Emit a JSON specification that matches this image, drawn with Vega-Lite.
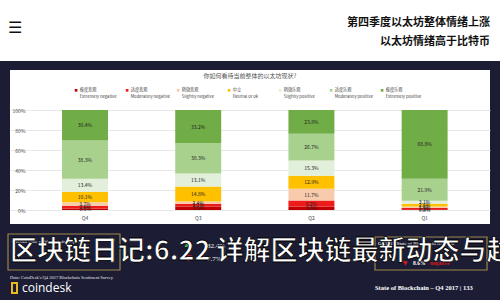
{
  "$schema": "https://vega.github.io/schema/vega-lite/v6.json",
  "background": "#1c1d35",
  "padding": 0,
  "spacing": 9,
  "center": true,
  "config": {"view": {"stroke": null}, "font": "Noto Sans CJK SC"},
  "vconcat": [
    {
      "width": 500,
      "height": 61,
      "view": {"fill": "white", "stroke": null},
      "layer": [
        {
          "data": {"values": [
            {"line": "1", "text": "第四季度以太坊整体情绪上涨"},
            {"line": "2", "text": "以太坊情绪高于比特币"}
          ]},
          "mark": {"type": "text", "align": "right", "baseline": "middle", "fontSize": 11, "fontWeight": "bold", "color": "#111", "dx": -10},
          "encoding": {
            "x": {"value": "width"},
            "y": {"field": "line", "type": "ordinal", "axis": null, "scale": {"range": [23, 42], "padding": 0}},
            "text": {"field": "text"}
          }
        },
        {
          "data": {"values": [{"icon": "☰"}]},
          "mark": {"type": "text", "align": "left", "baseline": "middle", "fontSize": 16, "color": "#111", "font": "DejaVu Sans"},
          "encoding": {"x": {"value": 8}, "y": {"value": 28}, "text": {"field": "icon"}}
        }
      ]
    },
    {
      "width": 480,
      "height": 154,
      "view": {"fill": "white", "stroke": null},
      "title": {"text": "你如何看待当前整体的以太坊现状?", "fontSize": 6, "color": "#555", "fontWeight": "normal", "offset": -9, "anchor": "middle"},
      "data": {"values": [
        {"quarter": "Q4", "sentiment": "Extremely negative", "rank": 1, "share": 0.015},
        {"quarter": "Q4", "sentiment": "Moderately negative", "rank": 2, "share": 0.026},
        {"quarter": "Q4", "sentiment": "Slightly negative", "rank": 3, "share": 0.037},
        {"quarter": "Q4", "sentiment": "Neutral or ok", "rank": 4, "share": 0.101},
        {"quarter": "Q4", "sentiment": "Slightly positive", "rank": 5, "share": 0.134},
        {"quarter": "Q4", "sentiment": "Moderately positive", "rank": 6, "share": 0.383},
        {"quarter": "Q4", "sentiment": "Extremely positive", "rank": 7, "share": 0.304},
        {"quarter": "Q3", "sentiment": "Extremely negative", "rank": 1, "share": 0.035},
        {"quarter": "Q3", "sentiment": "Moderately negative", "rank": 2, "share": 0.027},
        {"quarter": "Q3", "sentiment": "Slightly negative", "rank": 3, "share": 0.024},
        {"quarter": "Q3", "sentiment": "Neutral or ok", "rank": 4, "share": 0.148},
        {"quarter": "Q3", "sentiment": "Slightly positive", "rank": 5, "share": 0.131},
        {"quarter": "Q3", "sentiment": "Moderately positive", "rank": 6, "share": 0.303},
        {"quarter": "Q3", "sentiment": "Extremely positive", "rank": 7, "share": 0.332},
        {"quarter": "Q2", "sentiment": "Extremely negative", "rank": 1, "share": 0.034},
        {"quarter": "Q2", "sentiment": "Moderately negative", "rank": 2, "share": 0.062},
        {"quarter": "Q2", "sentiment": "Slightly negative", "rank": 3, "share": 0.117},
        {"quarter": "Q2", "sentiment": "Neutral or ok", "rank": 4, "share": 0.129},
        {"quarter": "Q2", "sentiment": "Slightly positive", "rank": 5, "share": 0.153},
        {"quarter": "Q2", "sentiment": "Moderately positive", "rank": 6, "share": 0.267},
        {"quarter": "Q2", "sentiment": "Extremely positive", "rank": 7, "share": 0.238},
        {"quarter": "Q1", "sentiment": "Extremely negative", "rank": 1, "share": 0.008},
        {"quarter": "Q1", "sentiment": "Moderately negative", "rank": 2, "share": 0.012},
        {"quarter": "Q1", "sentiment": "Slightly negative", "rank": 3, "share": 0.016},
        {"quarter": "Q1", "sentiment": "Neutral or ok", "rank": 4, "share": 0.026},
        {"quarter": "Q1", "sentiment": "Slightly positive", "rank": 5, "share": 0.031},
        {"quarter": "Q1", "sentiment": "Moderately positive", "rank": 6, "share": 0.219},
        {"quarter": "Q1", "sentiment": "Extremely positive", "rank": 7, "share": 0.688}
      ]},
      "encoding": {
        "x": {
          "field": "quarter", "type": "nominal", "sort": ["Q4", "Q3", "Q2", "Q1"],
          "scale": {"paddingInner": 0.594, "paddingOuter": 0.417, "align": 0.551},
          "axis": {"title": null, "orient": "bottom", "offset": -10, "domain": false, "ticks": false, "labelPadding": 1, "labelFontSize": 5, "labelColor": "#444", "labelAngle": 0}
        }
      },
      "layer": [
        {
          "mark": {"type": "bar"},
          "encoding": {
            "y": {
              "field": "share", "type": "quantitative", "stack": "zero",
              "scale": {"domain": [-0.14, 1.4], "nice": false, "zero": false},
              "axis": {"title": null, "values": [0, 0.2, 0.4, 0.6, 0.8, 1], "tickCount": 12, "format": ".0%", "offset": -17, "domain": false, "ticks": false, "labelPadding": 2, "labelFontSize": 5, "labelColor": "#444", "labelOverlap": false, "labelFlush": false, "gridColor": "#e2e2e2", "gridWidth": 0.8}
            },
            "color": {
              "field": "sentiment", "type": "nominal",
              "sort": ["Extremely negative", "Moderately negative", "Slightly negative", "Neutral or ok", "Slightly positive", "Moderately positive", "Extremely positive"],
              "scale": {
                "domain": ["Extremely negative", "Moderately negative", "Slightly negative", "Neutral or ok", "Slightly positive", "Moderately positive", "Extremely positive"],
                "range": ["#c00000", "#ee1b1b", "#f8cbad", "#ffc000", "#e2efda", "#a9d18e", "#70ad47"]
              },
              "legend": {
                "orient": "none", "legendX": 74, "legendY": 88, "direction": "horizontal", "columns": 7, "gridAlign": "all",
                "columnPadding": 5, "symbolType": "square", "symbolSize": 7, "symbolStrokeWidth": 0, "labelFontSize": 4.2, "labelColor": "#444", "labelOffset": 1.5, "title": null,
                "labelExpr": "datum.label == 'Extremely negative' ? ['\u2002\u2002\u2002\u2002\u2002极度悲观', datum.label] : datum.label == 'Moderately negative' ? ['\u2002\u2002\u2002\u2002\u2002\u2002适度悲观', datum.label] : datum.label == 'Slightly negative' ? ['\u2002\u2002\u2002\u2002稍微悲观', datum.label] : datum.label == 'Neutral or ok' ? ['\u2002\u2002\u2002\u2002\u2002中立', datum.label] : datum.label == 'Slightly positive' ? ['\u2002\u2002\u2002\u2002稍微乐观', datum.label] : datum.label == 'Moderately positive' ? ['\u2002\u2002\u2002\u2002\u2002\u2002适度乐观', datum.label] : ['\u2002\u2002\u2002\u2002\u2002极度乐观', datum.label]"
              }
            },
            "order": {"field": "rank", "type": "quantitative"}
          }
        },
        {
          "mark": {"type": "text", "fontSize": 5, "color": "#222"},
          "encoding": {
            "y": {"field": "share", "type": "quantitative", "stack": "zero", "bandPosition": 0.5},
            "detail": {"field": "sentiment"},
            "order": {"field": "rank", "type": "quantitative"},
            "text": {"field": "share", "type": "quantitative", "format": ".1%"}
          }
        }
      ]
    },
    {
      "width": 500,
      "height": 67,
      "layer": [
        {
          "data": {"values": [{}]},
          "mark": {"type": "rect", "fillOpacity": 0, "stroke": "#9b8748", "strokeWidth": 1.2},
          "encoding": {"x": {"value": 8}, "x2": {"value": 120}, "y": {"value": 1}, "y2": {"value": 37}}
        },
        {
          "data": {"values": [{}]},
          "mark": {"type": "rect", "fillOpacity": 0, "stroke": "#9b8748", "strokeWidth": 1.2},
          "encoding": {"x": {"value": 375}, "x2": {"value": 487}, "y": {"value": 4}, "y2": {"value": 37}}
        },
        {
          "data": {"values": [{}]},
          "mark": {"type": "point", "filled": true, "color": "#e0a23c", "size": 30},
          "encoding": {"x": {"value": 112}, "y": {"value": 7}}
        },
        {
          "data": {"values": [{"t": "Overall state of blockchain response"}]},
          "mark": {"type": "text", "align": "left", "baseline": "middle", "fontSize": 5, "color": "#ffffff", "font": "Liberation Serif"},
          "encoding": {"x": {"value": 12}, "y": {"value": 8}, "text": {"field": "t"}}
        },
        {
          "data": {"values": [{"t": "Q4 2017 State of Blockchain response"}]},
          "mark": {"type": "text", "align": "left", "baseline": "middle", "fontSize": 5, "color": "#ffffff", "font": "Liberation Serif"},
          "encoding": {"x": {"value": 378}, "y": {"value": 10}, "text": {"field": "t"}}
        },
        {
          "data": {"values": [{"t": "▲"}]},
          "mark": {"type": "text", "align": "center", "baseline": "middle", "fontSize": 9, "color": "#3fae49", "font": "DejaVu Sans"},
          "encoding": {"x": {"value": 188}, "y": {"value": 10}, "text": {"field": "t"}}
        },
        {
          "data": {"values": [{"t": "▼"}]},
          "mark": {"type": "text", "align": "center", "baseline": "middle", "fontSize": 9, "color": "#d8161c", "font": "DejaVu Sans"},
          "encoding": {"x": {"value": 188}, "y": {"value": 25}, "text": {"field": "t"}}
        },
        {
          "data": {"values": [{"t": "82.4%"}]},
          "mark": {"type": "text", "align": "left", "baseline": "middle", "fontSize": 7, "color": "#ffffff", "font": "Liberation Serif"},
          "encoding": {"x": {"value": 207}, "y": {"value": 13}, "text": {"field": "t"}}
        },
        {
          "data": {"values": [{"t": "7.7%"}]},
          "mark": {"type": "text", "align": "left", "baseline": "middle", "fontSize": 7, "color": "#ffffff", "font": "Liberation Serif"},
          "encoding": {"x": {"value": 207}, "y": {"value": 26}, "text": {"field": "t"}}
        },
        {
          "data": {"values": [{"t": "▼"}]},
          "mark": {"type": "text", "align": "center", "baseline": "middle", "fontSize": 6, "color": "#d8161c", "font": "DejaVu Sans"},
          "encoding": {"x": {"value": 405}, "y": {"value": 30}, "text": {"field": "t"}}
        },
        {
          "data": {"values": [{"t": "8.6%"}]},
          "mark": {"type": "text", "align": "left", "baseline": "middle", "fontSize": 5.5, "color": "#ffffff", "font": "Liberation Serif", "fontWeight": "bold"},
          "encoding": {"x": {"value": 413}, "y": {"value": 30}, "text": {"field": "t"}}
        },
        {
          "data": {"values": [{"t": "negative"}]},
          "mark": {"type": "text", "align": "left", "baseline": "middle", "fontSize": 5.5, "color": "#d8161c", "font": "Liberation Serif", "fontWeight": "bold"},
          "encoding": {"x": {"value": 430}, "y": {"value": 30}, "text": {"field": "t"}}
        },
        {
          "data": {"values": [{"t": "Data: CoinDesk's Q4 2017 Blockchain Sentiment Survey"}]},
          "mark": {"type": "text", "align": "left", "baseline": "middle", "fontSize": 4.5, "color": "#e8e8e8", "font": "Liberation Serif"},
          "encoding": {"x": {"value": 10}, "y": {"value": 45}, "text": {"field": "t"}}
        },
        {
          "data": {"values": [{}]},
          "mark": {"type": "rect", "fillOpacity": 0, "stroke": "#e8b923", "strokeWidth": 2},
          "encoding": {"x": {"value": 12}, "x2": {"value": 17}, "y": {"value": 50}, "y2": {"value": 60}}
        },
        {
          "data": {"values": [{"t": "coindesk"}]},
          "mark": {"type": "text", "align": "left", "baseline": "middle", "fontSize": 12, "color": "#ffffff", "font": "Open Sans"},
          "encoding": {"x": {"value": 22}, "y": {"value": 55}, "text": {"field": "t"}}
        },
        {
          "data": {"values": [{"t": "State of Blockchain – Q4 2017    |    133"}]},
          "mark": {"type": "text", "align": "left", "baseline": "middle", "fontSize": 6.5, "color": "#ffffff", "font": "Liberation Serif", "fontWeight": "bold"},
          "encoding": {"x": {"value": 375}, "y": {"value": 55}, "text": {"field": "t"}}
        },
        {
          "data": {"values": [{"t": "区块链日记:6.22 详解区块链最新动态与趋势"}]},
          "mark": {"type": "text", "align": "left", "baseline": "middle", "fontSize": 27, "fontWeight": "bold", "color": "#ffffff", "stroke": "#000000", "strokeWidth": 0.8, "clip": true},
          "encoding": {"x": {"value": 10}, "y": {"value": 19}, "text": {"field": "t"}}
        }
      ]
    }
  ]
}
